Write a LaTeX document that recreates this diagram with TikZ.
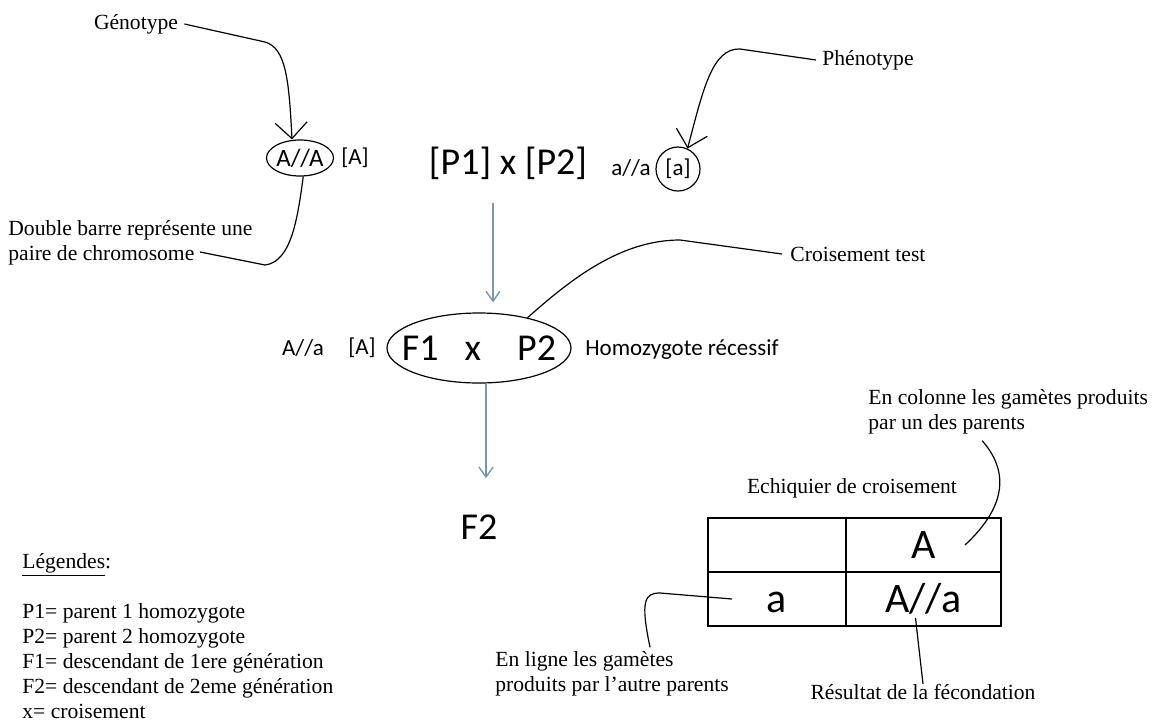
\documentclass[tikz,border=0pt]{standalone}
\usepackage{fontspec}
\setmainfont{Liberation Serif}
\newfontfamily\calib{Carlito}
\usepackage{tikz}
\usetikzlibrary{arrows.meta,positioning,shapes.geometric}
\usepackage{xcolor}
\definecolor{flowblue}{RGB}{120,152,176}

\begin{document}
\begin{tikzpicture}[x=0.5pt, y=-0.5pt,
        annot/.style={inner sep=0pt, align=left, font=\fontsize{10.8}{12.5}\selectfont},
        small/.style={inner sep=0pt, font=\calib\fontsize{11.5}{13}\selectfont},
        big/.style={inner sep=0pt, font=\calib\fontsize{19}{22}\selectfont},
        cell/.style={draw, line width=0.7pt, outer sep=0pt, inner sep=0pt, minimum height=27pt, text height=13.5pt, text depth=0pt, font=\calib\fontsize{21}{24}\selectfont},
        link/.style={line width=0.6pt},
        barb/.style={-{Straight Barb[length=8pt,width=16pt]}},
        flow/.style={flowblue, line width=0.7pt, -{Straight Barb[length=5pt,width=7pt]}}
    ]
    \useasboundingbox (0,0) rectangle (1152,724);
    % Parents
    \node[big] (cross) at (508,163) {[P1] x [P2]};
    \node[small, ellipse, draw, link, minimum width=33pt, minimum height=18pt, font=\calib\fontsize{12.5}{14}\selectfont] (genoP1) at (300,158) {A//A};
    \node[small] (phenoP1) at (355,158) {[A]};
    \node[small] (genoP2) at (631,168) {a//a};
    \node[small, circle, draw, link, minimum size=22pt] (phenoP2) at (678,169) {[a]};
    % Croisement test
    \node[big, ellipse, draw, link, inner xsep=-6pt, minimum width=91pt, minimum height=35pt] (test) at (479,348) {F1\hspace{13pt}x\hspace{18pt}P2};
    \node[small] (genoF1) at (303,348) {A//a};
    \node[small] (phenoF1) at (362,348) {[A]};
    \node[small, anchor=west] (recess) at (585,350) {Homozygote récessif};
    \node[big] (f2) at (479,527) {F2};
    % Fleches
    \draw[flow] ([xshift=-7.5pt,yshift=-11.5pt]cross.south) -- ([xshift=7pt,yshift=5pt]test.north);
    \draw[flow] ([xshift=3.5pt]test.south) -- ([xshift=3.5pt,yshift=18pt]f2.north);
    % Echiquier
    \node[annot] (echtxt) at (852,488) {Echiquier de croisement};
    \node[cell, minimum width=69pt] (c00) at (777,545) {};
    \node[cell, minimum width=77.5pt, right=0pt of c00] (cellA) {A};
    \node[cell, minimum width=69pt, below=0pt of c00] (cella) {a};
    \node[cell, minimum width=77.5pt, right=0pt of cella] (cellAa) {A//a};
    % Annotations
    \node[annot] (genotxt) at (136,24) {Génotype};
    \node[annot, anchor=west] (phenotxt) at (822,60) {Phénotype};
    \node[annot, anchor=west] (barretxt) at (8,243) {Double barre représente une\\paire de chromosome};
    \coordinate (barreend) at (200,252);
    \node[annot, anchor=west] (testtxt) at (790,254) {Croisement test};
    \node[annot, anchor=west] (colonnetxt) at (868,412) {En colonne les gamètes produits\\par un des parents};
    \node[annot, anchor=west] (lignetxt) at (495,674) {En ligne les gamètes\\produits par l'autre parents};
    \node[annot] (resultxt) at (923,692) {Résultat de la fécondation};
    \draw[link, barb] ([xshift=3pt]genotxt.east) -- (265,42) .. controls (286,48) and (289,80) .. ([xshift=-4pt]genoP1.north);
    \draw[link, barb] ([xshift=-3pt]phenotxt.west) -- (740,49) .. controls (712,48) and (703,90) .. (phenoP2.65);
    \draw[link] (genoP1.-80) .. controls (298,215) and (292,262) .. (265,265) -- (barreend);
    \draw[link] (test.32) .. controls (570,280) and (620,240) .. (680,240) -- ([xshift=-4pt]testtxt.west);
    \draw[link] ([xshift=-13pt,yshift=-3pt]colonnetxt.south) .. controls (1008,470) and (1008,505) .. ([xshift=-18pt]cellA.east);
    \draw[link] ([xshift=19pt,yshift=2pt]lignetxt.north) .. controls (640,600) and (645,593) .. (660,593) -- ([xshift=12pt]cella.west);
    \draw[link] (resultxt.north) -- ([xshift=-4pt,yshift=4pt]cellAa.south);
    % Legendes
    \node[annot, anchor=north west] (legende) at (22,553) {\underline{Légendes}:\\[12.5pt]
        P1= parent 1 homozygote\\
        P2= parent 2 homozygote\\
        F1= descendant de 1ere génération\\
        F2= descendant de 2eme génération\\
        x= croisement};
\end{tikzpicture}
\end{document}
